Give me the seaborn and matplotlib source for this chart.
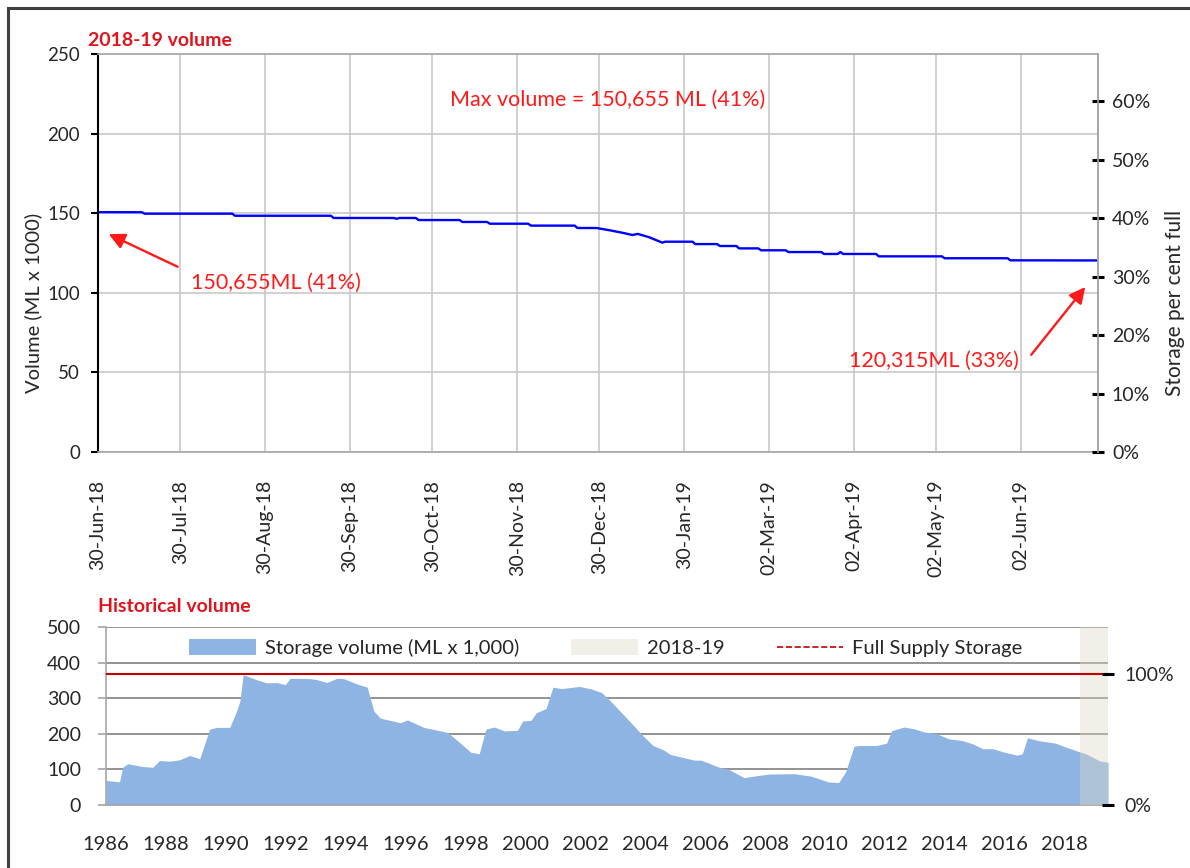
import matplotlib
matplotlib.use('Agg')
import matplotlib.pyplot as plt
import seaborn as sns
import pandas as pd
from matplotlib.patches import Patch, Rectangle
from matplotlib.lines import Line2D
import matplotlib.dates as mdates

# 2018-19 daily storage (ML x 1000) at the points where it changes
top_dates = ['2018-06-30', '2018-07-16', '2018-07-17', '2018-08-18', '2018-08-19', '2018-09-23',
             '2018-09-24', '2018-10-16', '2018-10-17', '2018-10-18', '2018-10-24', '2018-10-25',
             '2018-11-09', '2018-11-10', '2018-11-19', '2018-11-20', '2018-12-04', '2018-12-05',
             '2018-12-21', '2018-12-22', '2018-12-29', '2019-01-03', '2019-01-08', '2019-01-11',
             '2019-01-13', '2019-01-17', '2019-01-22', '2019-01-23', '2019-02-02', '2019-02-03',
             '2019-02-11', '2019-02-12', '2019-02-18', '2019-02-19', '2019-02-26', '2019-02-27',
             '2019-03-08', '2019-03-09', '2019-03-21', '2019-03-22', '2019-03-27', '2019-03-28',
             '2019-03-29', '2019-04-10', '2019-04-11', '2019-05-04', '2019-05-05', '2019-05-28',
             '2019-05-29', '2019-06-30']
top_volume = [150.66, 150.6, 149.7, 149.7, 148.4, 148.4,
              147.0, 147.0, 146.5, 147.0, 147.0, 145.7,
              145.7, 144.5, 144.5, 143.4, 143.4, 142.2,
              142.2, 140.7, 140.7, 139.2, 137.5, 136.3,
              137.0, 135.0, 131.5, 132.1, 132.1, 130.6,
              130.6, 129.4, 129.4, 127.9, 127.9, 126.7,
              126.7, 125.6, 125.6, 124.4, 124.4, 125.6,
              124.4, 124.4, 122.9, 122.9, 121.7, 121.7,
              120.4, 120.32]
top_ticks = ['2018-06-30', '2018-07-30', '2018-08-30', '2018-09-30', '2018-10-30', '2018-11-30',
             '2018-12-30', '2019-01-30', '2019-03-02', '2019-04-02', '2019-05-02', '2019-06-02']
top_tick_labels = ['30-Jun-18', '30-Jul-18', '30-Aug-18', '30-Sep-18', '30-Oct-18', '30-Nov-18',
                   '30-Dec-18', '30-Jan-19', '02-Mar-19', '02-Apr-19', '02-May-19', '02-Jun-19']

# historical storage (ML x 1000)
hist_year = [1986.0, 1986.45, 1986.56, 1986.73, 1987.23, 1987.56, 1987.79, 1988.12, 1988.46, 1988.79,
             1989.13, 1989.46, 1989.69, 1990.13, 1990.36, 1990.47, 1990.58, 1991.03, 1991.36, 1991.7,
             1991.98, 1992.15, 1992.82, 1993.04, 1993.37, 1993.71, 1993.93, 1994.38, 1994.72, 1994.94,
             1995.16, 1995.83, 1996.06, 1996.61, 1997.4, 1997.73, 1998.18, 1998.46, 1998.68, 1998.96,
             1999.3, 1999.74, 1999.91, 2000.19, 2000.36, 2000.69, 2000.92, 2001.2, 2001.81, 2002.2,
             2002.54, 2002.77, 2003.35, 2003.92, 2004.26, 2004.61, 2004.84, 2005.64, 2005.87, 2006.44,
             2006.79, 2007.3, 2007.7, 2008.16, 2008.97, 2009.54, 2010.11, 2010.46, 2010.69, 2010.97,
             2011.14, 2011.72, 2012.06, 2012.23, 2012.64, 2012.98, 2013.32, 2013.67, 2014.13, 2014.58,
             2014.93, 2015.27, 2015.62, 2015.96, 2016.42, 2016.59, 2016.76, 2017.11, 2017.68, 2018.03,
             2018.48, 2018.71, 2019.17, 2019.45]
hist_vol = [69, 65, 106, 116, 108, 106, 125, 123, 127, 139,
            130, 213, 218, 218, 264, 292, 366, 352, 343, 344,
            338, 356, 355, 352, 344, 356, 355, 340, 331, 264,
            244, 231, 239, 218, 204, 181, 148, 144, 213, 219,
            208, 210, 236, 238, 259, 271, 331, 327, 333, 326,
            316, 298, 247, 195, 167, 155, 142, 126, 126, 107,
            100, 77, 82, 87, 88, 81, 65, 63, 93, 165,
            167, 167, 174, 209, 219, 214, 205, 202, 186, 181,
            172, 158, 158, 149, 140, 144, 189, 181, 174, 163,
            150, 144, 124, 120]
hist_years = list(range(1986, 2019, 2))

full_supply = 367.4  # ML x 1000 = 100%
season = (2018.5, 2019.45)

RED = '#e0141e'
TXT = '#262626'
GRID = '#c8c8c8'

sns.set_theme(style='white')
plt.rcParams['font.family'] = ['Lato', 'DejaVu Sans']

W, H = 1190, 868
fig = plt.figure(figsize=(W / 100, H / 100), dpi=100)

# ---------- top chart ----------
ax1 = fig.add_axes([98 / W, 1 - 452 / H, 1000 / W, 398 / H])
df = pd.DataFrame({'date': pd.to_datetime(top_dates), 'vol': top_volume})
sns.lineplot(data=df, x='date', y='vol', color='#0000ff', lw=1.7, ax=ax1)
ax1.set_xlim(pd.Timestamp('2018-06-30'), pd.Timestamp('2019-06-30'))
ax1.set_ylim(0, 250)
ax1.set_yticks(range(0, 251, 50))
ax1.set_xticks(pd.to_datetime(top_ticks))
ax1.set_xticklabels(top_tick_labels, rotation=90, va='top', ha='center')
ax1.set_xlabel('')
ax1.set_ylabel('')
ax1.grid(True, color=GRID, lw=1.2)
for s in ['top', 'right', 'bottom']:
    ax1.spines[s].set_color('#a6a6a6')
    ax1.spines[s].set_linewidth(1.2)
ax1.spines['left'].set_color('black')
ax1.spines['left'].set_linewidth(1.5)
ax1.tick_params(axis='y', direction='out', length=5, width=1.5, color='black',
                labelsize=13.5, labelcolor=TXT, pad=8)
ax1.tick_params(axis='x', direction='out', length=9, width=1.2, color='#a6a6a6',
                labelsize=14, labelcolor=TXT, pad=11)

ax1r = ax1.twinx()
ax1r.set_ylim(0, 250 / full_supply * 100)
ax1r.set_yticks(range(0, 61, 10))
ax1r.set_yticklabels([f'{v}%' for v in range(0, 61, 10)])
ax1r.tick_params(axis='y', direction='inout', length=8, width=2.2, color='black',
                 labelsize=14, labelcolor=TXT, pad=6)
for s in ['top', 'left', 'bottom']:
    ax1r.spines[s].set_visible(False)
ax1r.spines['right'].set_color('#a6a6a6')
ax1r.spines['right'].set_linewidth(1.2)
ax1r.grid(False)

d = mdates.date2num
ax1.annotate('', xy=(d(pd.Timestamp('2018-07-03')), 137.6), xytext=(d(pd.Timestamp('2018-07-30')), 115.6),
             arrowprops=dict(arrowstyle='-|>', color='#ff1a1a', lw=1.7, mutation_scale=24))
ax1.text(d(pd.Timestamp('2018-08-03')), 106, '150,655ML (41%)', color='#ff1a1a', fontsize=15.5,
         ha='left', va='center')
ax1.annotate('', xy=(d(pd.Timestamp('2019-06-26')), 105), xytext=(d(pd.Timestamp('2019-06-05')), 59.7),
             arrowprops=dict(arrowstyle='-|>', color='#ff1a1a', lw=1.7, mutation_scale=24))
ax1.text(d(pd.Timestamp('2019-06-01')), 57, '120,315ML (33%)', color='#ff1a1a', fontsize=15.5,
         ha='right', va='center')
ax1.text(d(pd.Timestamp('2019-01-02')), 221, 'Max volume = 150,655 ML (41%)', color='#ff1a1a',
         fontsize=15.5, ha='center', va='center')

fig.text(88 / W, 1 - 40 / H, '2018-19 volume', color=RED, fontsize=14, fontweight='bold', va='center')
fig.text(33 / W, 1 - 303 / H, 'Volume (ML x 1000)', rotation=90, fontsize=14.5, color=TXT,
         ha='center', va='center')
fig.text(1175 / W, 1 - 303 / H, 'Storage per cent full', rotation=90, fontsize=15, color=TXT,
         ha='center', va='center')

# ---------- bottom chart ----------
ax2 = fig.add_axes([106 / W, 1 - 805 / H, 1002 / W, 178 / H])
ax2.fill_between(hist_year, hist_vol, color='#8eb4e3', lw=0, zorder=2)
ax2.axvspan(*season, color='#ddd9c3', alpha=0.4, lw=0, zorder=3)
ax2.axhline(full_supply, color='#c00000', lw=1.5, zorder=4)
ax2.set_xlim(1986, season[1])
ax2.set_ylim(0, 500)
ax2.set_yticks(range(0, 501, 100))
ax2.set_xticks(hist_years)
ax2.set_xticklabels([str(y) for y in hist_years])
ax2.grid(True, axis='y', color='#808080', lw=1.2, zorder=1)
ax2.grid(False, axis='x')
ax2.set_axisbelow(True)
for s in ['top', 'right']:
    ax2.spines[s].set_visible(False)
for s in ['left', 'bottom']:
    ax2.spines[s].set_color('#a6a6a6')
    ax2.spines[s].set_linewidth(1.2)
ax2.tick_params(axis='y', direction='out', length=6, width=1.2, color='#a6a6a6',
                labelsize=14, labelcolor=TXT, pad=12)
ax2.tick_params(axis='x', direction='out', length=7, width=1.2, color='#a6a6a6',
                labelsize=14.5, labelcolor=TXT, pad=15)

ax2r = ax2.twinx()
ax2r.set_ylim(0, 500 / full_supply * 100)
ax2r.set_yticks([0, 100])
ax2r.set_yticklabels(['0%', '100%'])
ax2r.tick_params(axis='y', direction='inout', length=8, width=2.2, color='black',
                 labelsize=14, labelcolor=TXT, pad=8)
for s in ax2r.spines.values():
    s.set_visible(False)
ax2r.grid(False)

handles = [Patch(facecolor='#8eb4e3', edgecolor='none'),
           Patch(facecolor='#ddd9c3', alpha=0.4, edgecolor='none'),
           Line2D([], [], color='#c00000', ls='--', lw=1.2)]
ax2.legend(handles, ['Storage volume (ML x 1,000)', '2018-19', 'Full Supply Storage'],
           ncol=3, frameon=False, loc='center left', bbox_to_anchor=(0.065, 0.88),
           fontsize=14.5, handlelength=3.3, handleheight=0.85, handletextpad=0.45,
           columnspacing=2.6, labelcolor=TXT)

fig.text(98 / W, 1 - 607 / H, 'Historical volume', color=RED, fontsize=14, fontweight='bold', va='center')

# outer border of the original sheet
fig.add_artist(Rectangle((8 / W, -0.2), 1.5, 1.2 - 8 / H, transform=fig.transFigure,
                         fill=False, edgecolor='#404040', lw=2.2))

fig.savefig('out.png', dpi=100)
